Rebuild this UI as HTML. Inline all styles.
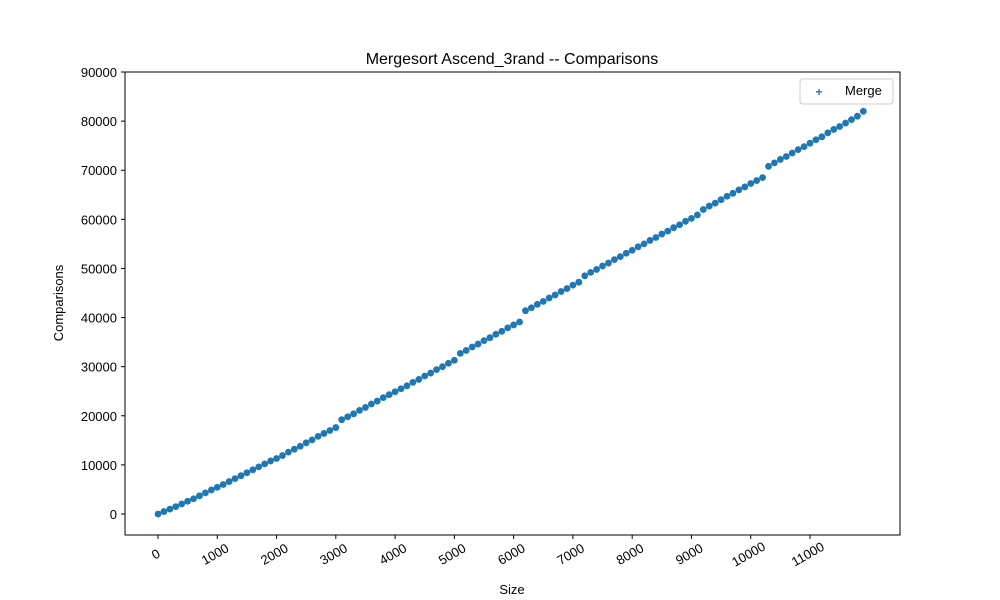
<!DOCTYPE html>
<html><head><meta charset="utf-8"><style>body{margin:0;background:#fff}svg{display:block;font-family:"Liberation Sans","DejaVu Sans",sans-serif}</style></head>
<body>
<svg id="chart" width="1000" height="600" xmlns="http://www.w3.org/2000/svg">
<rect x="0" y="0" width="1000" height="600" fill="#fff"/>
<text x="512" y="64" font-size="16" text-anchor="middle">Mergesort Ascend_3rand -- Comparisons</text>
<g id="points"></g>
<g id="xticks"></g>
<g id="yticks"></g>
<rect x="125" y="72" width="775" height="463" fill="none" stroke="#000" stroke-width="1"/>
<text x="512" y="594" font-size="13" text-anchor="middle">Size</text>
<text transform="translate(63,303) rotate(-90)" font-size="13" text-anchor="middle">Comparisons</text>
<g>
<rect x="800" y="79" width="93" height="25" rx="3" fill="#fff" stroke="#ccc"/>
<text x="819" y="96" font-size="12" font-weight="bold" fill="#1f77b4" text-anchor="middle">+</text>
<text x="845" y="95" font-size="13">Merge</text>
</g>
</svg>
<script>
const sizes=[];for(let i=0;i<120;i++)sizes.push(i*100);
const comparisons=[0,500,1000,1500,2050,2600,3100,3700,4300,4900,5450,6000,6600,7200,7800,8400,9000,9600,10200,10800,11300,11900,12600,13200,13800,14500,15100,15800,16400,17000,17600,19200,19800,20400,21100,21700,22400,23000,23700,24300,24900,25500,26100,26800,27400,28100,28700,29400,30000,30700,31300,32700,33300,34000,34600,35300,35900,36600,37200,37900,38500,39100,41400,42000,42700,43300,44000,44600,45300,45900,46600,47200,48500,49200,49800,50500,51100,51800,52400,53100,53700,54400,55000,55700,56300,57000,57600,58300,58900,59600,60200,60900,62000,62700,63300,64000,64700,65300,66000,66600,67300,67900,68500,70800,71500,72200,72800,73500,74200,74800,75500,76200,76800,77600,78300,78900,79600,80300,81000,82000];
const xTicks=[0,1000,2000,3000,4000,5000,6000,7000,8000,9000,10000,11000];
const yTicks=[0,10000,20000,30000,40000,50000,60000,70000,80000,90000];
const NS="http://www.w3.org/2000/svg";
const xs=v=>158+v*(652/11000);
const ys=v=>514-v*(442/90000);
const pts=document.getElementById('points');
sizes.forEach((s,i)=>{const c=document.createElementNS(NS,'circle');


c.setAttribute('cx',xs(s));c.setAttribute('cy',ys(comparisons[i]));c.setAttribute('r',3.4);c.setAttribute('fill','#1f77b4');pts.appendChild(c);});
const xg=document.getElementById('xticks');
xTicks.forEach(t=>{const x=xs(t);const l=document.createElementNS(NS,'line');


l.setAttribute('x1',x);l.setAttribute('x2',x);l.setAttribute('y1',535);l.setAttribute('y2',539);l.setAttribute('stroke','#000');xg.appendChild(l);
const tx=document.createElementNS(NS,'text');


tx.setAttribute('font-size','13');tx.setAttribute('text-anchor','middle');
tx.setAttribute('transform',`translate(${x},${558}) rotate(-30)`);tx.textContent=t;xg.appendChild(tx);});
const yg=document.getElementById('yticks');
yTicks.forEach(t=>{const y=ys(t);const l=document.createElementNS(NS,'line');


l.setAttribute('x1',121);l.setAttribute('x2',125);l.setAttribute('y1',y);l.setAttribute('y2',y);l.setAttribute('stroke','#000');yg.appendChild(l);
const tx=document.createElementNS(NS,'text');


tx.setAttribute('font-size','13');tx.setAttribute('text-anchor','end');
tx.setAttribute('x',117);tx.setAttribute('y',y+5);tx.textContent=t;yg.appendChild(tx);});
</script>
</body></html>
